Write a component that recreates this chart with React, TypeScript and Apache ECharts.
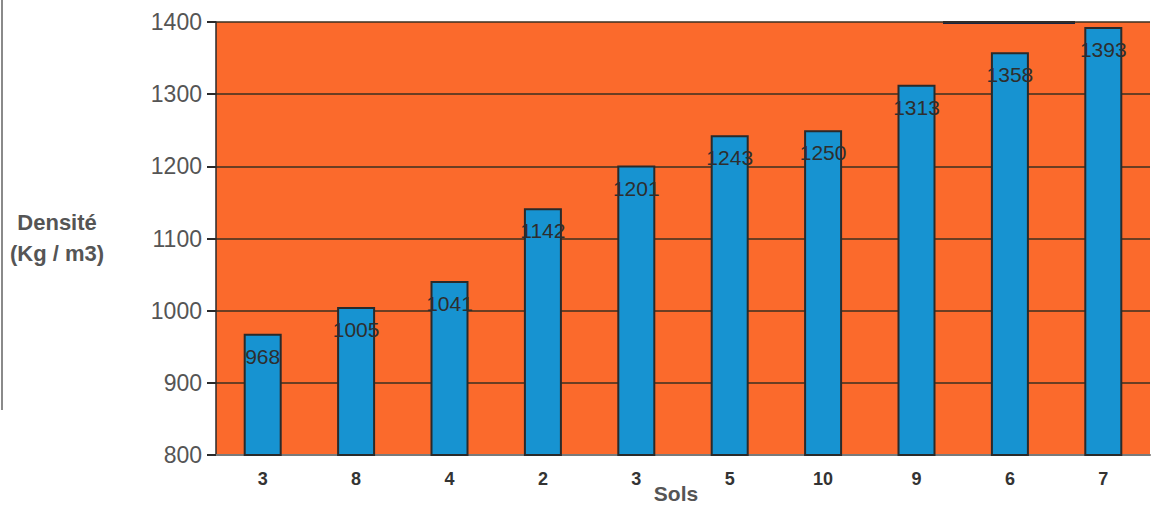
import React, { useEffect, useRef } from "react";
import * as echarts from "echarts";

// Soil samples and their measured density
const sols = ["3", "8", "4", "2", "3", "5", "10", "9", "6", "7"];
const densite = [968, 1005, 1041, 1142, 1201, 1243, 1250, 1313, 1358, 1393];
const yTicks = { min: 800, max: 1400, interval: 100 };

export default function App() {
  const ref = useRef<HTMLDivElement>(null);

  useEffect(() => {
    if (!ref.current) return;
    const chart = echarts.init(ref.current, undefined, { renderer: "svg" });
    const font = "'Liberation Sans', Arial, Helvetica, sans-serif";
    chart.setOption({
      animation: false,
      backgroundColor: "#ffffff",
      textStyle: { fontFamily: font },
      grid: {
        left: 216,
        right: 1,
        top: 22,
        bottom: 56,
        outerBoundsMode: "none",
        containLabel: false,
        show: true,
        backgroundColor: "#fb6a2c",
        borderWidth: 0,
      },
      xAxis: {
        type: "category",
        data: sols,
        axisLine: { show: true, lineStyle: { color: "#7a7a7a", width: 2 } },
        axisTick: { show: false },
        axisLabel: {
          color: "#333333",
          fontWeight: "bold",
          fontSize: 18,
          margin: 15,
          fontFamily: font,
        },
      },
      yAxis: {
        type: "value",
        min: yTicks.min,
        max: yTicks.max,
        interval: yTicks.interval,
        axisLine: { show: true, lineStyle: { color: "#2a2a2a", width: 1.5 } },
        axisTick: { show: true, length: 9, lineStyle: { color: "#2a2a2a", width: 2 } },
        axisLabel: {
          color: "#555555",
          fontSize: 23,
          margin: 14,
          fontFamily: font,
          formatter: (v: number) => String(v),
        },
        splitLine: { show: true, lineStyle: { color: "#3a3020", width: 1.5 } },
      },
      graphic: [
        {
          type: "text",
          left: 10,
          top: 207,
          style: {
            text: "Densité\n(Kg / m3)",
            fill: "#555555",
            font: `bold 22px ${font}`,
            lineHeight: 31,
            textAlign: "center",
          },
        },
        {
          type: "text",
          x: 676,
          y: 493,
          style: {
            text: "Sols",
            fill: "#555555",
            font: `bold 21px ${font}`,
            textAlign: "center",
            textVerticalAlign: "middle",
            verticalAlign: "middle",
          },
        },
        {
          type: "line",
          shape: { x1: 2, y1: 0, x2: 2, y2: 410 },
          style: { stroke: "#8a8a8a", lineWidth: 2 },
        },
        {
          type: "rect",
          shape: { x: 943, y: 21, width: 132, height: 3 },
          style: { fill: "#1c2440" },
        },
      ],
      series: [
        {
          type: "bar",
          data: densite,
          barWidth: 38,
          itemStyle: { color: "#1793d1", borderColor: "#2a2a2a", borderWidth: 2 },
          label: {
            show: true,
            position: "insideTop",
            distance: 12,
            color: "#2e2e2e",
            fontSize: 21,
            fontFamily: font,
          },
        },
      ],
    });
    return () => chart.dispose();
  }, []);

  return (
    <div
      ref={ref}
      style={{ position: "fixed", left: 0, top: 0, width: 1151, height: 511 }}
    />
  );
}
